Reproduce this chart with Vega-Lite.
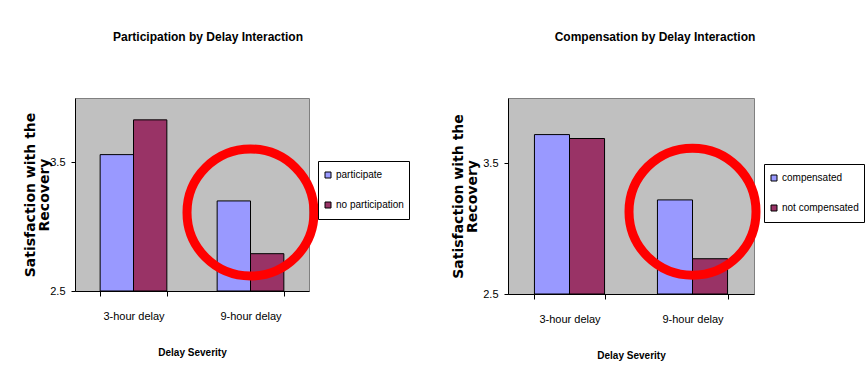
{
  "$schema": "https://vega.github.io/schema/vega-lite/v6.json",
  "background": "white",
  "padding": {"left": 22, "top": 30, "right": 0, "bottom": 0},
  "spacing": 40,
  "datasets": {
    "participation": [
      {"delay": "3-hour delay", "group": "participate", "satisfaction": 3.56},
      {"delay": "3-hour delay", "group": "no participation", "satisfaction": 3.83},
      {"delay": "9-hour delay", "group": "participate", "satisfaction": 3.2},
      {"delay": "9-hour delay", "group": "no participation", "satisfaction": 2.79}
    ],
    "compensation": [
      {"delay": "3-hour delay", "group": "compensated", "satisfaction": 3.72},
      {"delay": "3-hour delay", "group": "not compensated", "satisfaction": 3.69},
      {"delay": "9-hour delay", "group": "compensated", "satisfaction": 3.22},
      {"delay": "9-hour delay", "group": "not compensated", "satisfaction": 2.77}
    ],
    "highlightLeft": [{"delay": "9-hour delay", "satisfaction": 3.11}],
    "highlightRight": [{"delay": "9-hour delay", "satisfaction": 3.13}]
  },
  "hconcat": [
    {
      "width": 234,
      "height": 193,
      "title": {"text": "Participation by Delay Interaction", "dx": 16},
      "layer": [
        {
          "data": {"name": "participation"},
          "mark": {"type": "bar", "stroke": "black", "strokeWidth": 1},
          "encoding": {
            "x": {"field": "delay", "type": "nominal", "sort": ["3-hour delay", "9-hour delay"], "scale": {"paddingInner": 0.43, "paddingOuter": 0.215}, "title": "Delay Severity"},
            "xOffset": {"field": "group", "type": "nominal", "sort": ["participate", "no participation"], "scale": {"domain": ["participate", "no participation"], "paddingInner": 0, "paddingOuter": 0}},
            "y": {"field": "satisfaction", "type": "quantitative", "scale": {"domain": [2.5, 4.0], "zero": false, "nice": false}, "axis": {"values": [2.5, 3.5], "titlePadding": -2}, "title": ["Satisfaction with the", "Recovery"]},
            "y2": {"datum": 2.5},
            "color": {"field": "group", "type": "nominal", "sort": ["participate", "no participation"], "scale": {"domain": ["participate", "no participation"], "range": ["#9999FF", "#993366"]}, "legend": {"legendX": 243, "legendY": 63}}
          }
        },
        {
          "data": {"name": "highlightLeft"},
          "mark": {"type": "point", "shape": "circle", "filled": false, "stroke": "#FF0000", "strokeWidth": 9, "size": 16129, "opacity": 1},
          "encoding": {
            "x": {"field": "delay", "type": "nominal"},
            "y": {"field": "satisfaction", "type": "quantitative"}
          }
        }
      ]
    },
    {
      "width": 246,
      "height": 196,
      "title": {"text": "Compensation by Delay Interaction", "dx": 24},
      "layer": [
        {
          "data": {"name": "compensation"},
          "mark": {"type": "bar", "stroke": "black", "strokeWidth": 1},
          "encoding": {
            "x": {"field": "delay", "type": "nominal", "sort": ["3-hour delay", "9-hour delay"], "scale": {"paddingInner": 0.43, "paddingOuter": 0.215}, "title": "Delay Severity"},
            "xOffset": {"field": "group", "type": "nominal", "sort": ["compensated", "not compensated"], "scale": {"domain": ["compensated", "not compensated"], "paddingInner": 0, "paddingOuter": 0}},
            "y": {"field": "satisfaction", "type": "quantitative", "scale": {"domain": [2.5, 4.0], "zero": false, "nice": false}, "axis": {"values": [2.5, 3.5], "titlePadding": 3}, "title": ["Satisfaction with the", "Recovery"]},
            "y2": {"datum": 2.5},
            "color": {"field": "group", "type": "nominal", "sort": ["compensated", "not compensated"], "scale": {"domain": ["compensated", "not compensated"], "range": ["#9999FF", "#993366"]}, "legend": {"legendX": 256, "legendY": 66}}
          }
        },
        {
          "data": {"name": "highlightRight"},
          "mark": {"type": "point", "shape": "circle", "filled": false, "stroke": "#FF0000", "strokeWidth": 9, "size": 16129, "opacity": 1},
          "encoding": {
            "x": {"field": "delay", "type": "nominal"},
            "y": {"field": "satisfaction", "type": "quantitative"}
          }
        }
      ]
    }
  ],
  "resolve": {"scale": {"color": "independent", "xOffset": "independent", "x": "independent", "y": "independent"}},
  "config": {
    "view": {"fill": "#C0C0C0", "stroke": "#808080", "strokeWidth": 1},
    "title": {"font": "Liberation Sans", "fontSize": 12, "fontWeight": "bold", "color": "black", "anchor": "middle", "offset": 54},
    "axis": {"domainColor": "black", "tickColor": "black", "labelColor": "black", "titleColor": "black", "grid": false, "labelFont": "Liberation Sans", "labelFontSize": 11},
    "axisX": {"labelAngle": 0, "tickBand": "extent", "tickSize": 5, "labelPadding": 14, "titleFont": "Liberation Sans", "titleFontSize": 10, "titleFontWeight": "bold", "titlePadding": 26},
    "axisY": {"tickSize": 4, "labelPadding": 6, "format": ".1f", "titleFont": "DejaVu Sans", "titleFontSize": 14, "titleFontWeight": "bold", "titleLineHeight": 14.5},
    "legend": {"orient": "none", "title": null, "strokeColor": "black", "fillColor": "white", "padding": 5, "clipHeight": 18, "symbolType": "square", "symbolSize": 36, "symbolStrokeColor": "black", "symbolStrokeWidth": 1, "labelFont": "Liberation Sans", "labelFontSize": 10, "labelColor": "black", "rowPadding": 12, "symbolOffset": 0, "labelOffset": 3, "cornerRadius": 0}
  }
}
